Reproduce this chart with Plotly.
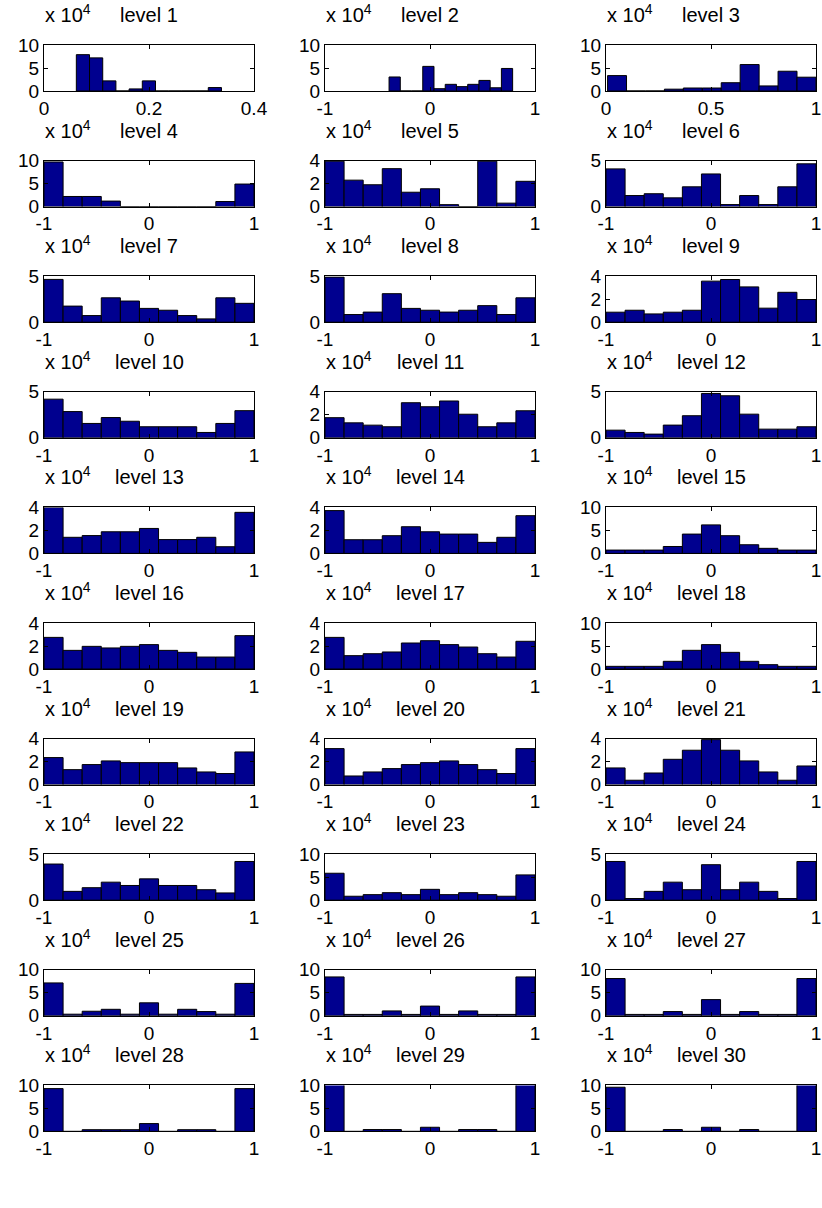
import plotly.graph_objects as go

# ---------------- data (counts in units of 10^4) ----------------
level_names = [f"level {i}" for i in range(1, 31)]

level01 = [7.9, 7.2, 2.2, 0, 0.45, 2.2, 0, 0, 0, 0, 0.75]
level02 = [3.05, 0, 0, 5.35, 0.5, 1.45, 0.95, 1.45, 2.3, 0.7, 4.9]
level03 = [3.35, 0, 0, 0.4, 0.65, 0.65, 1.8, 5.75, 1.1, 4.3, 3.0]
level04 = [9.7, 2.2, 2.2, 1.2, 0, 0, 0, 0, 0, 1.1, 4.9]
level05 = [3.95, 2.3, 1.9, 3.3, 1.25, 1.55, 0.17, 0, 3.95, 0.3, 2.2]
level06 = [4.1, 1.2, 1.4, 0.95, 2.15, 3.55, 0.22, 1.2, 0.22, 2.15, 4.65]
level07 = [4.65, 1.75, 0.72, 2.65, 2.3, 1.5, 1.3, 0.72, 0.36, 2.65, 2.05]
level08 = [4.9, 0.83, 1.1, 3.1, 1.5, 1.3, 1.1, 1.3, 1.8, 0.83, 2.65]
level09 = [0.87, 1.04, 0.72, 0.87, 1.04, 3.57, 3.71, 3.07, 1.22, 2.6, 1.97]
level10 = [4.2, 2.85, 1.56, 2.2, 1.8, 1.2, 1.2, 1.2, 0.58, 1.56, 2.95]
level11 = [1.75, 1.3, 1.1, 0.96, 3.05, 2.7, 3.2, 2.05, 0.96, 1.3, 2.35]
level12 = [0.83, 0.58, 0.4, 1.38, 2.4, 4.82, 4.57, 2.57, 0.94, 0.94, 1.2]
level13 = [4.0, 1.4, 1.55, 1.88, 1.88, 2.17, 1.2, 1.2, 1.4, 0.58, 3.57]
level14 = [3.72, 1.19, 1.19, 1.54, 2.32, 1.88, 1.68, 1.68, 0.96, 1.4, 3.28]
level15 = [0.72, 0.72, 0.72, 1.5, 4.2, 6.2, 3.85, 1.88, 1.1, 0.72, 0.72]
level16 = [2.75, 1.62, 1.97, 1.83, 1.97, 2.12, 1.62, 1.45, 1.04, 1.04, 2.9]
level17 = [2.75, 1.16, 1.33, 1.48, 2.26, 2.46, 2.12, 1.91, 1.33, 1.04, 2.41]
level18 = [0.58, 0.58, 0.58, 1.67, 4.06, 5.3, 3.62, 1.67, 0.94, 0.58, 0.58]
level19 = [2.35, 1.3, 1.74, 2.06, 1.91, 1.91, 1.91, 1.45, 1.1, 0.96, 2.84]
level20 = [3.13, 0.75, 1.1, 1.39, 1.74, 1.91, 2.06, 1.74, 1.3, 0.96, 3.13]
level21 = [1.45, 0.38, 1.01, 2.2, 2.99, 3.91, 2.99, 2.06, 1.1, 0.38, 1.62]
level22 = [3.93, 0.96, 1.36, 1.96, 1.6, 2.32, 1.6, 1.6, 1.14, 0.79, 4.21]
level23 = [5.86, 0.86, 1.21, 1.64, 1.21, 2.36, 1.21, 1.64, 1.21, 0.86, 5.5]
level24 = [4.21, 0.18, 0.96, 1.96, 1.14, 3.86, 1.14, 1.96, 0.96, 0.18, 4.21]
level25 = [7.15, 0.35, 0.99, 1.41, 0.35, 2.82, 0.35, 1.41, 0.92, 0.35, 7.04]
level26 = [8.45, 0.3, 0.3, 1.06, 0.3, 2.11, 0.3, 1.06, 0.3, 0.3, 8.45]
level27 = [8.1, 0.3, 0.3, 0.92, 0.3, 3.52, 0.3, 0.92, 0.3, 0.3, 8.1]
level28 = [9.3, 0, 0.37, 0.37, 0.37, 1.7, 0, 0.37, 0.37, 0, 9.3]
level29 = [10.5, 0, 0.4, 0.4, 0, 0.9, 0, 0.4, 0.4, 0, 10.5]
level30 = [9.6, 0, 0, 0.4, 0, 0.9, 0, 0.4, 0, 0, 10.5]

counts = [level01, level02, level03, level04, level05, level06, level07, level08,
          level09, level10, level11, level12, level13, level14, level15, level16,
          level17, level18, level19, level20, level21, level22, level23, level24,
          level25, level26, level27, level28, level29, level30]

# histogram bin start / width per level (x data units)
bin_start = [0.0616, -0.39, 0.0075] + [-1.0] * 27
bin_width = [0.02513, 0.107, 0.0902] + [2 / 11] * 27

# axis limits and tick labels
x_range = [[0, 0.4], [-1, 1], [0, 1]] + [[-1, 1]] * 27
x_ticks = [[0, 0.2, 0.4], [-1, 0, 1], [0, 0.5, 1]] + [[-1, 0, 1]] * 27
x_ticktext = [["0", "0.2", "0.4"], ["-1", "0", "1"], ["0", "0.5", "1"]] + [["-1", "0", "1"]] * 27
y_max = [10, 10, 10, 10, 4, 5, 5, 5, 4, 5, 4, 5, 4, 4, 10, 4, 4, 10, 4, 4, 4, 5, 10, 5,
         10, 10, 10, 10, 10, 10]
y_ticks_by_max = {10: [0, 5, 10], 5: [0, 5], 4: [0, 2, 4]}

# ---------------- layout geometry (pixels) ----------------
W, H = 822, 1208
col_left = [44, 325, 606]
box_w = 210
row_top0 = 45
row_pitch = 115.6
box_h = 46

FONT = "Liberation Sans, Arial, sans-serif"
TICK_SIZE = 19
TITLE_SIZE = 20
BAR_COLOR = "#00008F"

fig = go.Figure()
layout = dict(
    width=W, height=H, autosize=False,
    margin=dict(l=0, r=0, t=0, b=0, pad=0, autoexpand=False),
    paper_bgcolor="white", plot_bgcolor="white",
    showlegend=False,
    font=dict(family=FONT, size=TICK_SIZE, color="black"),
    annotations=[],
)

for i, vals in enumerate(counts):
    r, c = divmod(i, 3)
    sfx = "" if i == 0 else str(i + 1)
    left = col_left[c]
    top = row_top0 + r * row_pitch
    x0, x1 = left / W, (left + box_w) / W
    y1, y0 = 1 - top / H, 1 - (top + box_h) / H

    centers = [bin_start[i] + bin_width[i] * (k + 0.5) for k in range(len(vals))]
    fig.add_trace(go.Bar(
        x=centers, y=vals, width=bin_width[i],
        marker=dict(color=BAR_COLOR, line=dict(color="black", width=1)),
        xaxis="x" + sfx, yaxis="y" + sfx, hoverinfo="skip",
    ))

    common = dict(showline=True, linecolor="black", linewidth=1, mirror="ticks",
                  ticks="inside", ticklen=4, tickwidth=1, tickcolor="black",
                  showgrid=False, zeroline=False, fixedrange=True, automargin=False,
                  tickfont=dict(family=FONT, size=TICK_SIZE, color="black"))
    layout["xaxis" + sfx] = dict(common, domain=[x0, x1], range=x_range[i],
                                 tickvals=x_ticks[i], ticktext=x_ticktext[i],
                                 anchor="y" + sfx)
    yt = y_ticks_by_max[y_max[i]]
    layout["yaxis" + sfx] = dict(common, domain=[y0, y1], range=[0, y_max[i]],
                                 tickvals=yt, ticktext=[str(v) for v in yt],
                                 anchor="x" + sfx)

    base_y = 1 - (top - 18) / H
    layout["annotations"].append(dict(
        xref="paper", yref="paper", x=left / W, y=base_y,
        xanchor="left", yanchor="bottom", showarrow=False, borderpad=0,
        text="x 10<sup>4</sup>", font=dict(family=FONT, size=TITLE_SIZE, color="black")))
    layout["annotations"].append(dict(
        xref="paper", yref="paper", x=(left + box_w / 2) / W, y=base_y,
        xanchor="center", yanchor="bottom", showarrow=False, borderpad=0,
        text=level_names[i], font=dict(family=FONT, size=TITLE_SIZE, color="black")))

fig.update_layout(**layout)
fig.write_html("out.html")
